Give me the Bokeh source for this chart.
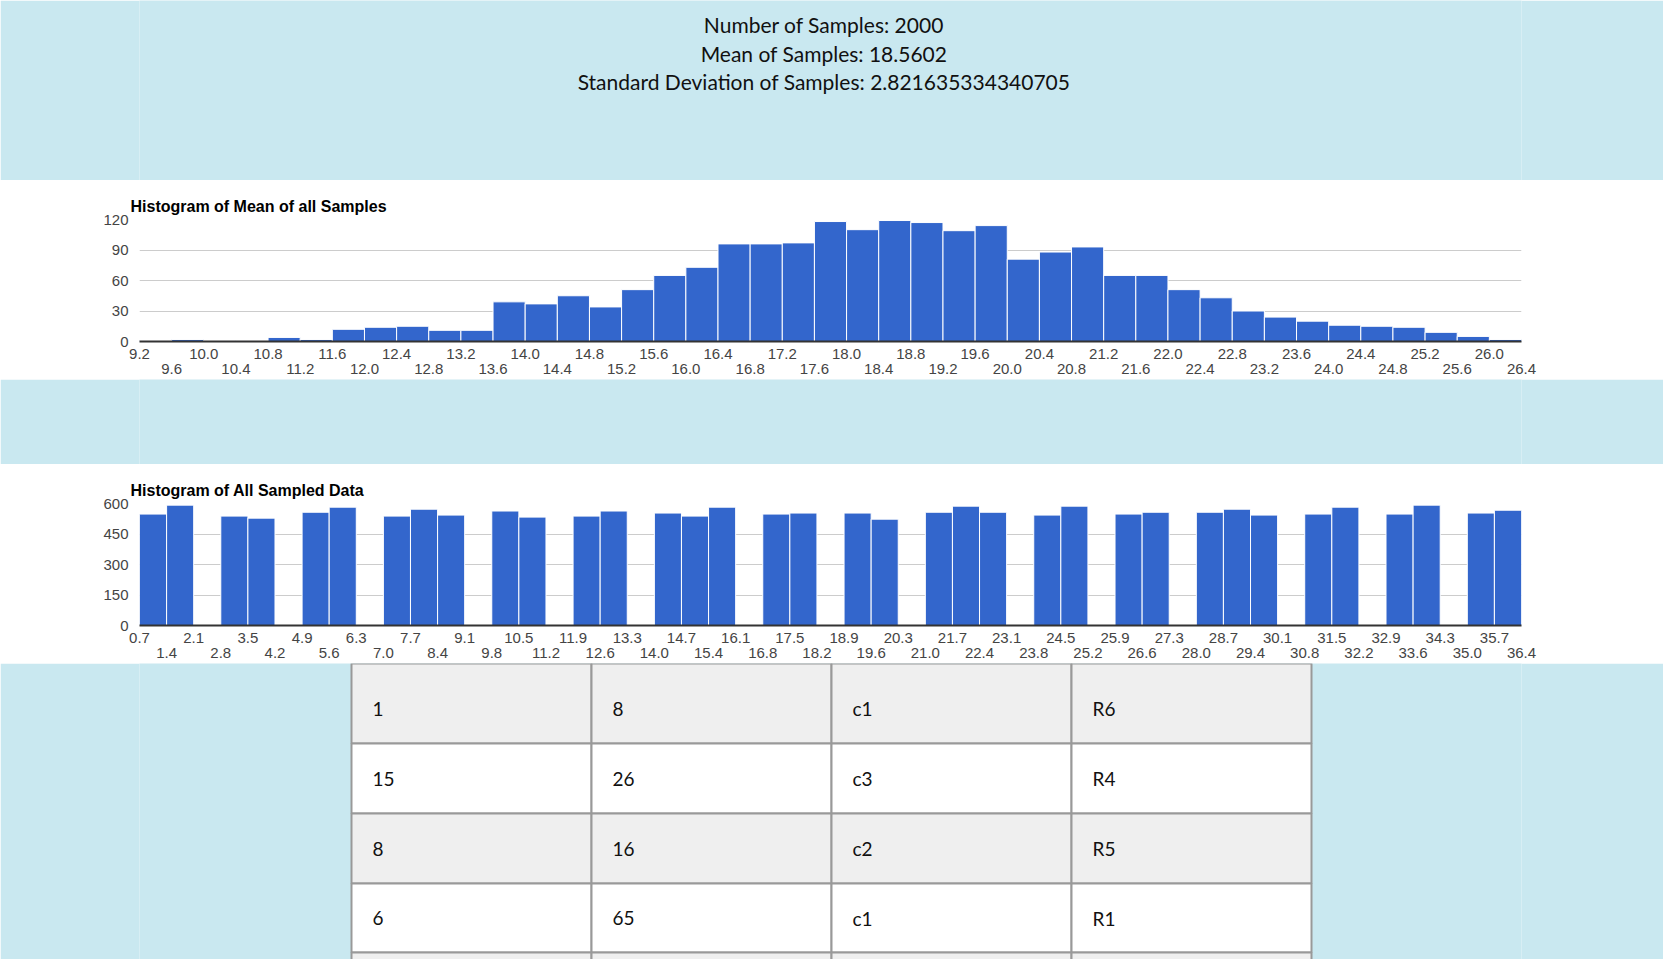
import numpy as np
from bokeh.core.properties import value
from bokeh.embed import file_html
from bokeh.layouts import column
from bokeh.models import FixedTicker, LinearAxis, NumeralTickFormatter, Range1d
from bokeh.plotting import figure
from bokeh.resources import INLINE

header_lines = ["Number of Samples: 2000",
                "Mean of Samples: 18.5602",
                "Standard Deviation of Samples: 2.821635334340705"]

mean_start, mean_step = 9.2, 0.4
mean_counts = [1, 2, 1, 1, 4, 2, 12, 14, 15, 11, 11, 39, 37, 45, 34, 51, 65, 73,
               96, 96, 97, 118, 110, 119, 117, 109, 114, 81, 88, 93, 65, 65, 51,
               43, 30, 24, 20, 16, 15, 14, 9, 5, 2]

all_start, all_step = 0.7, 0.7
all_counts = [548, 592, 0, 538, 528, 0, 557, 582, 0, 538, 572, 543, 0, 563, 533, 0,
              538, 563, 0, 553, 538, 582, 0, 548, 553, 0, 553, 523, 0, 557, 587, 557,
              0, 543, 587, 0, 548, 557, 0, 557, 572, 543, 0, 548, 582, 0, 548, 592,
              0, 553, 567]

table_rows = [["1", "8", "c1", "R6"],
              ["15", "26", "c3", "R4"],
              ["8", "16", "c2", "R5"],
              ["6", "65", "c1", "R1"],
              ["", "", "", ""]]

BLUE_BG = "#c9e8f0"
BAR = "#3366cc"
W = 1663
BL, BR = 139, 142  # frame borders shared by all plots in the column


def panel(height, bg):
    # plain drawing area where data units are pixels of the figure
    p = figure(width=W, height=height, x_range=Range1d(BL, W - BR),
               y_range=Range1d(height, 0), output_backend="svg", toolbar_location=None,
               min_border_left=BL, min_border_right=BR, min_border_top=0,
               min_border_bottom=0)
    p.axis.visible = False
    p.grid.visible = False
    p.outline_line_color = None
    p.background_fill_color = bg
    p.border_fill_color = bg
    return p


hdr = panel(180, BLUE_BG)
hdr.text(x=[W / 2 - 8] * 3, y=[24, 53, 81], text=header_lines, text_align="center",
         text_baseline="middle", text_font=value("Lato"), text_font_size="21px",
         text_color="#111111")


def histogram(title, start, step, counts, y_max, y_step, row1, row2):
    n = len(counts)
    end = round(start + n * step, 1)
    p = figure(width=W, height=199, x_range=Range1d(start, end), y_range=Range1d(0, y_max),
               output_backend="svg", toolbar_location=None, title=title,
               min_border_left=BL, min_border_right=BR, min_border_top=39,
               min_border_bottom=38, x_axis_location=None)
    p.title.text_font = "Liberation Sans"
    p.title.text_font_size = "16px"
    p.title.text_color = "#000000"
    p.title.align = "left"
    p.title.offset = -9
    p.outline_line_color = None
    left = np.round(start + np.arange(n) * step, 2)
    p.quad(left=left, right=left + step, bottom=0, top=counts, fill_color=BAR,
           line_color="white", line_width=1)
    p.yaxis.ticker = FixedTicker(ticks=list(range(0, y_max + 1, y_step)))
    p.yaxis.axis_line_color = None
    p.yaxis.major_tick_line_color = None
    p.yaxis.minor_tick_line_color = None
    p.yaxis.major_label_text_font = "Liberation Sans"
    p.yaxis.major_label_text_font_size = "15px"
    p.yaxis.major_label_text_color = "#444444"
    p.ygrid.grid_line_color = "#cccccc"
    p.xgrid.grid_line_color = None
    for i, ticks in enumerate([row1, row2]):
        ax = LinearAxis(ticker=FixedTicker(ticks=ticks),
                        formatter=NumeralTickFormatter(format="0.0"))
        ax.axis_line_color = "#333333" if i == 0 else None
        ax.axis_line_width = 2
        ax.major_tick_line_color = None
        ax.minor_tick_line_color = None
        ax.major_label_standoff = 1 if i == 0 else -4
        ax.major_label_text_font = "Liberation Sans"
        ax.major_label_text_font_size = "15px"
        ax.major_label_text_color = "#444444"
        p.add_layout(ax, "below")
    return p


mrow1 = [round(mean_start + 2 * k * mean_step, 1) for k in range(22)]
mrow2 = [round(mean_start + (2 * k + 1) * mean_step, 1) for k in range(22)]
h1 = histogram("Histogram of Mean of all Samples", mean_start, mean_step, mean_counts,
               120, 30, mrow1, mrow2)

arow1 = [round(all_start + 2 * k * all_step, 1) for k in range(26)]
arow2 = [round(all_start + (2 * k + 1) * all_step, 1) for k in range(26)]
h2 = histogram("Histogram of All Sampled Data", all_start, all_step, all_counts,
               600, 150, arow1, arow2)

band = panel(85, BLUE_BG)

# table
TH = 296
tab = panel(TH, BLUE_BG)
col_left, col_w = 351, 240
row_tops = [0, 80, 150, 220, 289]
row_h = [80, 70, 70, 69, 70]
lefts, rights, tops, bottoms, fills, tx, ty, tt = [], [], [], [], [], [], [], []
for r, row in enumerate(table_rows):
    for c, cell in enumerate(row):
        lefts.append(col_left + c * col_w)
        rights.append(col_left + (c + 1) * col_w)
        tops.append(row_tops[r])
        bottoms.append(row_tops[r] + row_h[r])
        fills.append("#efefef" if r % 2 == 0 else "#ffffff")
        tx.append(col_left + c * col_w + 21)
        ty.append(row_tops[r] + row_h[r] / 2 + (5 if r == 0 else 0))
        tt.append(cell)
tab.quad(left=lefts, right=rights, top=tops, bottom=bottoms, fill_color=fills,
         line_color="#999999", line_width=2)
tab.text(x=tx, y=ty, text=tt, text_baseline="middle", text_font=value("Lato"),
         text_font_size="19px", text_color="#111111")

layout = column(hdr, h1, band, h2, tab, spacing=0)
open("out.html", "w").write(file_html(layout, INLINE))
